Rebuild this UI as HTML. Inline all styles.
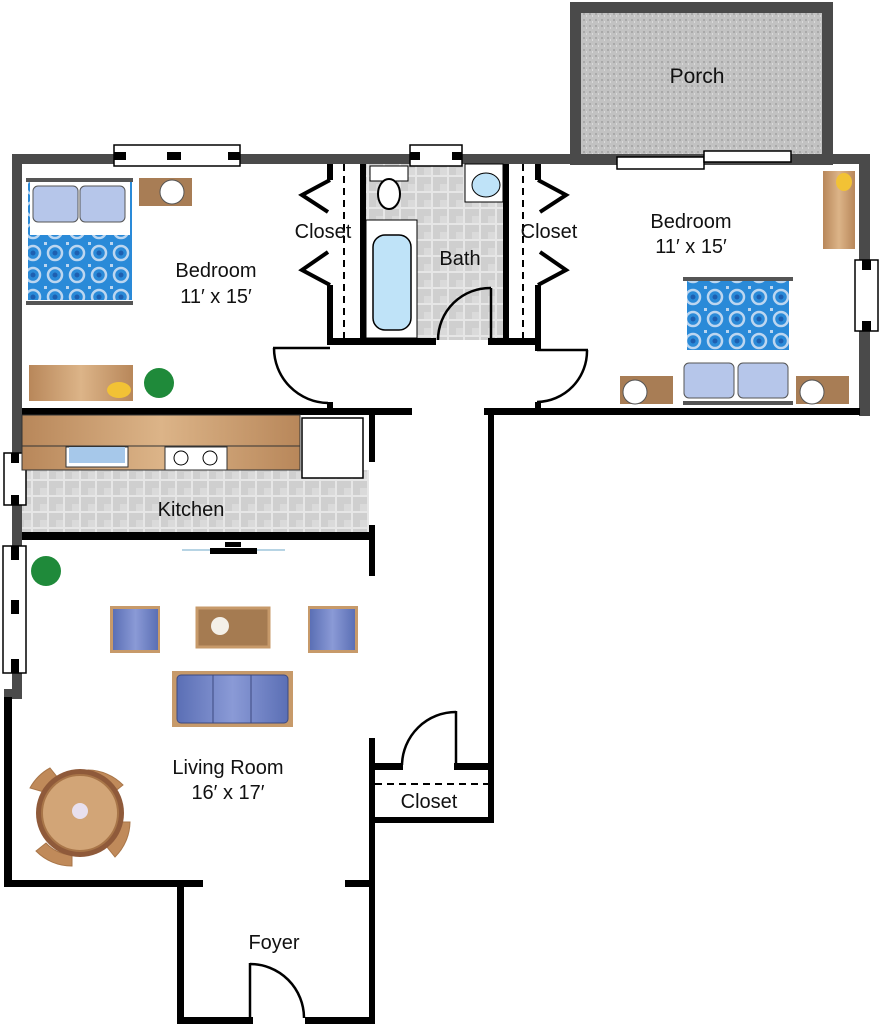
<!DOCTYPE html>
<html><head><meta charset="utf-8"><style>
html,body{margin:0;padding:0;background:#fff;}
svg{display:block;}
text{font-family:"Liberation Sans",sans-serif;fill:#111;}
</style></head><body>
<svg width="880" height="1024" viewBox="0 0 880 1024" xmlns="http://www.w3.org/2000/svg">
<defs>
<pattern id="tile" width="16" height="16" patternUnits="userSpaceOnUse">
<rect width="16" height="16" fill="#e6e6e6"/><rect x="1" y="1" width="14" height="14" fill="#cfcfcf"/><rect x="8" y="8" width="7" height="7" fill="#dadada"/>
</pattern>
<pattern id="grit" width="6" height="6" patternUnits="userSpaceOnUse">
<rect width="6" height="6" fill="#c2c2c2"/><rect x="1" y="1" width="2" height="2" fill="#a9a9a9"/><rect x="4" y="3" width="1" height="2" fill="#dadada"/>
</pattern>
<pattern id="quilt" width="22" height="22" patternUnits="userSpaceOnUse">
<rect width="22" height="22" fill="#2a8ad8"/><circle cx="11" cy="11" r="7" fill="none" stroke="#bcd6f0" stroke-width="2.5"/><circle cx="11" cy="11" r="2.5" fill="#1e5fb0"/><rect x="0" y="0" width="3" height="3" fill="#bcd6f0"/>
</pattern>
<linearGradient id="wood" x1="0" x2="1"><stop offset="0" stop-color="#b8875a"/><stop offset="0.5" stop-color="#dcb488"/><stop offset="1" stop-color="#b8875a"/></linearGradient>
<linearGradient id="sofa" x1="0" x2="1"><stop offset="0" stop-color="#5b6fb5"/><stop offset="0.5" stop-color="#8a9ad6"/><stop offset="1" stop-color="#5b6fb5"/></linearGradient>
</defs>

<rect x="575.5" y="7.5" width="252" height="152" fill="url(#grit)" stroke="#4a4a4a" stroke-width="11"/>
<text x="697" y="83" font-size="21" text-anchor="middle">Porch</text>

<rect x="12" y="154" width="858" height="10" fill="#4a4a4a"/>
<rect x="12" y="154" width="10" height="545" fill="#4a4a4a"/>
<rect x="4" y="689" width="18" height="10" fill="#4a4a4a"/>
<rect x="859" y="154" width="11" height="262" fill="#4a4a4a"/>

<rect x="366" y="164" width="137" height="176" fill="url(#tile)"/>
<rect x="22" y="470" width="347" height="63" fill="url(#tile)"/>

<g fill="#000">
<rect x="22" y="408" width="390" height="7"/>
<rect x="484" y="408" width="376" height="7"/>
<rect x="327" y="164" width="6" height="16"/>
<rect x="327" y="285" width="6" height="60"/>
<rect x="360" y="164" width="6" height="180"/>
<rect x="503" y="164" width="6" height="180"/>
<rect x="535" y="164" width="6" height="16"/>
<rect x="535" y="285" width="6" height="66"/>
<rect x="327" y="338" width="109" height="7"/>
<rect x="488" y="338" width="53" height="7"/>
<rect x="327" y="402" width="6" height="10"/>
<rect x="535" y="402" width="6" height="10"/>
<rect x="369" y="415" width="6" height="47"/>
<rect x="488" y="415" width="6" height="408"/>
<rect x="22" y="532" width="353" height="8"/>
<rect x="369" y="525" width="6" height="51"/>
<rect x="369" y="738" width="6" height="286"/>
<rect x="4" y="697" width="8" height="190"/>
<rect x="4" y="880" width="199" height="7"/>
<rect x="345" y="880" width="30" height="7"/>
<rect x="177" y="880" width="7" height="144"/>
<rect x="177" y="1017" width="76" height="7"/>
<rect x="305" y="1017" width="69" height="7"/>
<rect x="369" y="763" width="34" height="7"/>
<rect x="454" y="763" width="40" height="7"/>
<rect x="369" y="817" width="125" height="6"/>
</g>

<g fill="none" stroke="#000" stroke-width="4">
<polyline points="330,180 302,195 328,212"/>
<polyline points="330,285 302,270 328,252"/>
<polyline points="538,180 566,195 540,212"/>
<polyline points="538,285 566,270 540,252"/>
</g>
<g stroke="#000" stroke-width="2" stroke-dasharray="7,5">
<line x1="344" y1="164" x2="344" y2="338"/>
<line x1="523" y1="164" x2="523" y2="338"/>
<line x1="375" y1="784" x2="488" y2="784"/>
</g>

<g fill="none" stroke="#000" stroke-width="2.5">
<line x1="273" y1="348" x2="330" y2="348"/><path d="M274,348 A55,55 0 0 0 328,403"/>
<line x1="537" y1="350" x2="588" y2="350"/><path d="M587,350 A51,51 0 0 1 537,402"/>
<line x1="491" y1="288" x2="491" y2="340"/><path d="M491,288 A52,52 0 0 0 438,340"/>
<line x1="456" y1="711" x2="456" y2="765"/><path d="M456,712 A54,54 0 0 0 402,765"/>
<line x1="250" y1="963" x2="250" y2="1018"/><path d="M250,964 A54,54 0 0 1 304,1018"/>
</g>

<g fill="#fff" stroke="#000" stroke-width="1.5">
<rect x="114" y="145" width="126" height="21"/>
<rect x="410" y="145" width="52" height="21"/>
<rect x="855" y="260" width="23" height="71"/>
<rect x="4" y="453" width="22" height="52"/>
<rect x="3" y="546" width="23" height="127"/>
<rect x="617" y="157" width="87" height="12"/>
<rect x="704" y="151" width="87" height="11"/>
</g>
<g fill="#000">
<rect x="114" y="152" width="12" height="8"/><rect x="167" y="152" width="14" height="8"/><rect x="228" y="152" width="12" height="8"/>
<rect x="410" y="152" width="10" height="8"/><rect x="452" y="152" width="10" height="8"/>
<rect x="862" y="260" width="9" height="10"/><rect x="862" y="321" width="9" height="10"/>
<rect x="11" y="453" width="8" height="10"/><rect x="11" y="495" width="8" height="10"/>
<rect x="11" y="546" width="8" height="14"/><rect x="11" y="600" width="8" height="14"/><rect x="11" y="659" width="8" height="14"/>
</g>

<rect x="28" y="178" width="104" height="122" fill="url(#quilt)"/>
<rect x="30" y="180" width="100" height="55" fill="#fff"/>
<rect x="33" y="186" width="45" height="36" rx="5" fill="#b6c6ea" stroke="#555"/>
<rect x="80" y="186" width="45" height="36" rx="5" fill="#b6c6ea" stroke="#555"/>
<rect x="26" y="178" width="107" height="4" fill="#555"/><rect x="26" y="301" width="107" height="4" fill="#555"/>
<rect x="139" y="178" width="53" height="28" fill="#a87d55"/><circle cx="172" cy="192" r="12" fill="#fff" stroke="#555"/>
<rect x="29" y="365" width="104" height="36" fill="url(#wood)"/>
<ellipse cx="119" cy="390" rx="12" ry="8" fill="#f2c235"/>
<circle cx="159" cy="383" r="15" fill="#1f8a3a"/>

<rect x="370" y="166" width="38" height="15" fill="#fff" stroke="#000"/>
<ellipse cx="389" cy="194" rx="11" ry="15" fill="#fff" stroke="#000" stroke-width="2"/>
<rect x="366" y="220" width="51" height="118" fill="#fff" stroke="#000"/>
<rect x="373" y="235" width="38" height="95" rx="12" fill="#bfe3f8" stroke="#000" stroke-width="1.5"/>
<rect x="465" y="164" width="38" height="38" fill="#fff" stroke="#000"/>
<ellipse cx="486" cy="185" rx="14" ry="12" fill="#bfe3f8" stroke="#000"/>

<rect x="687" y="280" width="102" height="70" fill="url(#quilt)"/>
<rect x="687" y="350" width="102" height="50" fill="#fff"/>
<rect x="683" y="277" width="110" height="4" fill="#555"/><rect x="683" y="401" width="110" height="4" fill="#555"/>
<rect x="684" y="363" width="50" height="35" rx="5" fill="#b6c6ea" stroke="#555"/>
<rect x="738" y="363" width="50" height="35" rx="5" fill="#b6c6ea" stroke="#555"/>
<rect x="620" y="376" width="53" height="28" fill="#a87d55"/><circle cx="635" cy="392" r="12" fill="#fff" stroke="#555"/>
<rect x="796" y="376" width="53" height="28" fill="#a87d55"/><circle cx="812" cy="392" r="12" fill="#fff" stroke="#555"/>
<rect x="823" y="171" width="32" height="78" fill="url(#wood)"/>
<ellipse cx="844" cy="182" rx="8" ry="9" fill="#f2c235"/>

<rect x="22" y="415" width="278" height="55" fill="url(#wood)" stroke="#333"/>
<line x1="22" y1="446" x2="300" y2="446" stroke="#333"/>
<rect x="66" y="447" width="62" height="20" fill="#fff" stroke="#333"/><rect x="69" y="447" width="56" height="16" fill="#a6c8ea"/>
<rect x="165" y="447" width="62" height="23" fill="#fff" stroke="#333"/>
<circle cx="181" cy="458" r="7" fill="none" stroke="#000"/><circle cx="210" cy="458" r="7" fill="none" stroke="#000"/>
<rect x="302" y="418" width="61" height="60" fill="#fff" stroke="#000" stroke-width="1.5"/>

<line x1="182" y1="550" x2="285" y2="550" stroke="#6fa8c8" stroke-width="1"/>
<rect x="210" y="548" width="47" height="6" fill="#000"/><rect x="225" y="542" width="16" height="5" fill="#000"/>
<circle cx="46" cy="571" r="15" fill="#1f8a3a"/>
<rect x="110" y="606" width="50" height="47" fill="#c79a6a"/><rect x="113" y="609" width="45" height="41" fill="url(#sofa)"/>
<rect x="308" y="606" width="50" height="47" fill="#c79a6a"/><rect x="310" y="609" width="45" height="41" fill="url(#sofa)"/>
<rect x="197" y="608" width="72" height="39" fill="#a57b51" stroke="#c79a6a" stroke-width="3"/>
<circle cx="220" cy="626" r="9" fill="#f4f0e8"/>
<rect x="172" y="671" width="121" height="56" fill="#c79a6a"/>
<rect x="177" y="675" width="111" height="48" rx="4" fill="url(#sofa)" stroke="#3d4a80"/>
<line x1="213" y1="675" x2="213" y2="723" stroke="#3d4a80"/><line x1="251" y1="675" x2="251" y2="723" stroke="#3d4a80"/>
<g fill="#c08a5a" stroke="#a87548">
<path d="M30,788 a50,50 0 0 1 20,-20 l8,10 a38,38 0 0 0 -14,14 z"/>
<path d="M88,770 a50,50 0 0 1 35,15 l-10,8 a38,38 0 0 0 -25,-12 z"/>
<path d="M130,822 a50,50 0 0 1 -15,35 l-8,-10 a38,38 0 0 0 12,-25 z"/>
<path d="M72,866 a50,50 0 0 1 -36,-15 l10,-8 a38,38 0 0 0 26,12 z"/>
</g>
<circle cx="80" cy="813" r="44" fill="#8f5a3a"/>
<circle cx="80" cy="813" r="38" fill="#d2a577" stroke="#a87548" stroke-width="2"/>
<circle cx="80" cy="811" r="8" fill="#e8e0ee"/>

<g font-size="20" text-anchor="middle">
<text x="323" y="238">Closet</text>
<text x="460" y="265">Bath</text>
<text x="549" y="238">Closet</text>
<text x="216" y="277">Bedroom</text>
<text x="216" y="303">11′ x 15′</text>
<text x="691" y="228">Bedroom</text>
<text x="691" y="253">11′ x 15′</text>
<text x="191" y="516">Kitchen</text>
<text x="228" y="774">Living Room</text>
<text x="228" y="799">16′ x 17′</text>
<text x="429" y="808">Closet</text>
<text x="274" y="949">Foyer</text>
</g>
</svg>
</body></html>
